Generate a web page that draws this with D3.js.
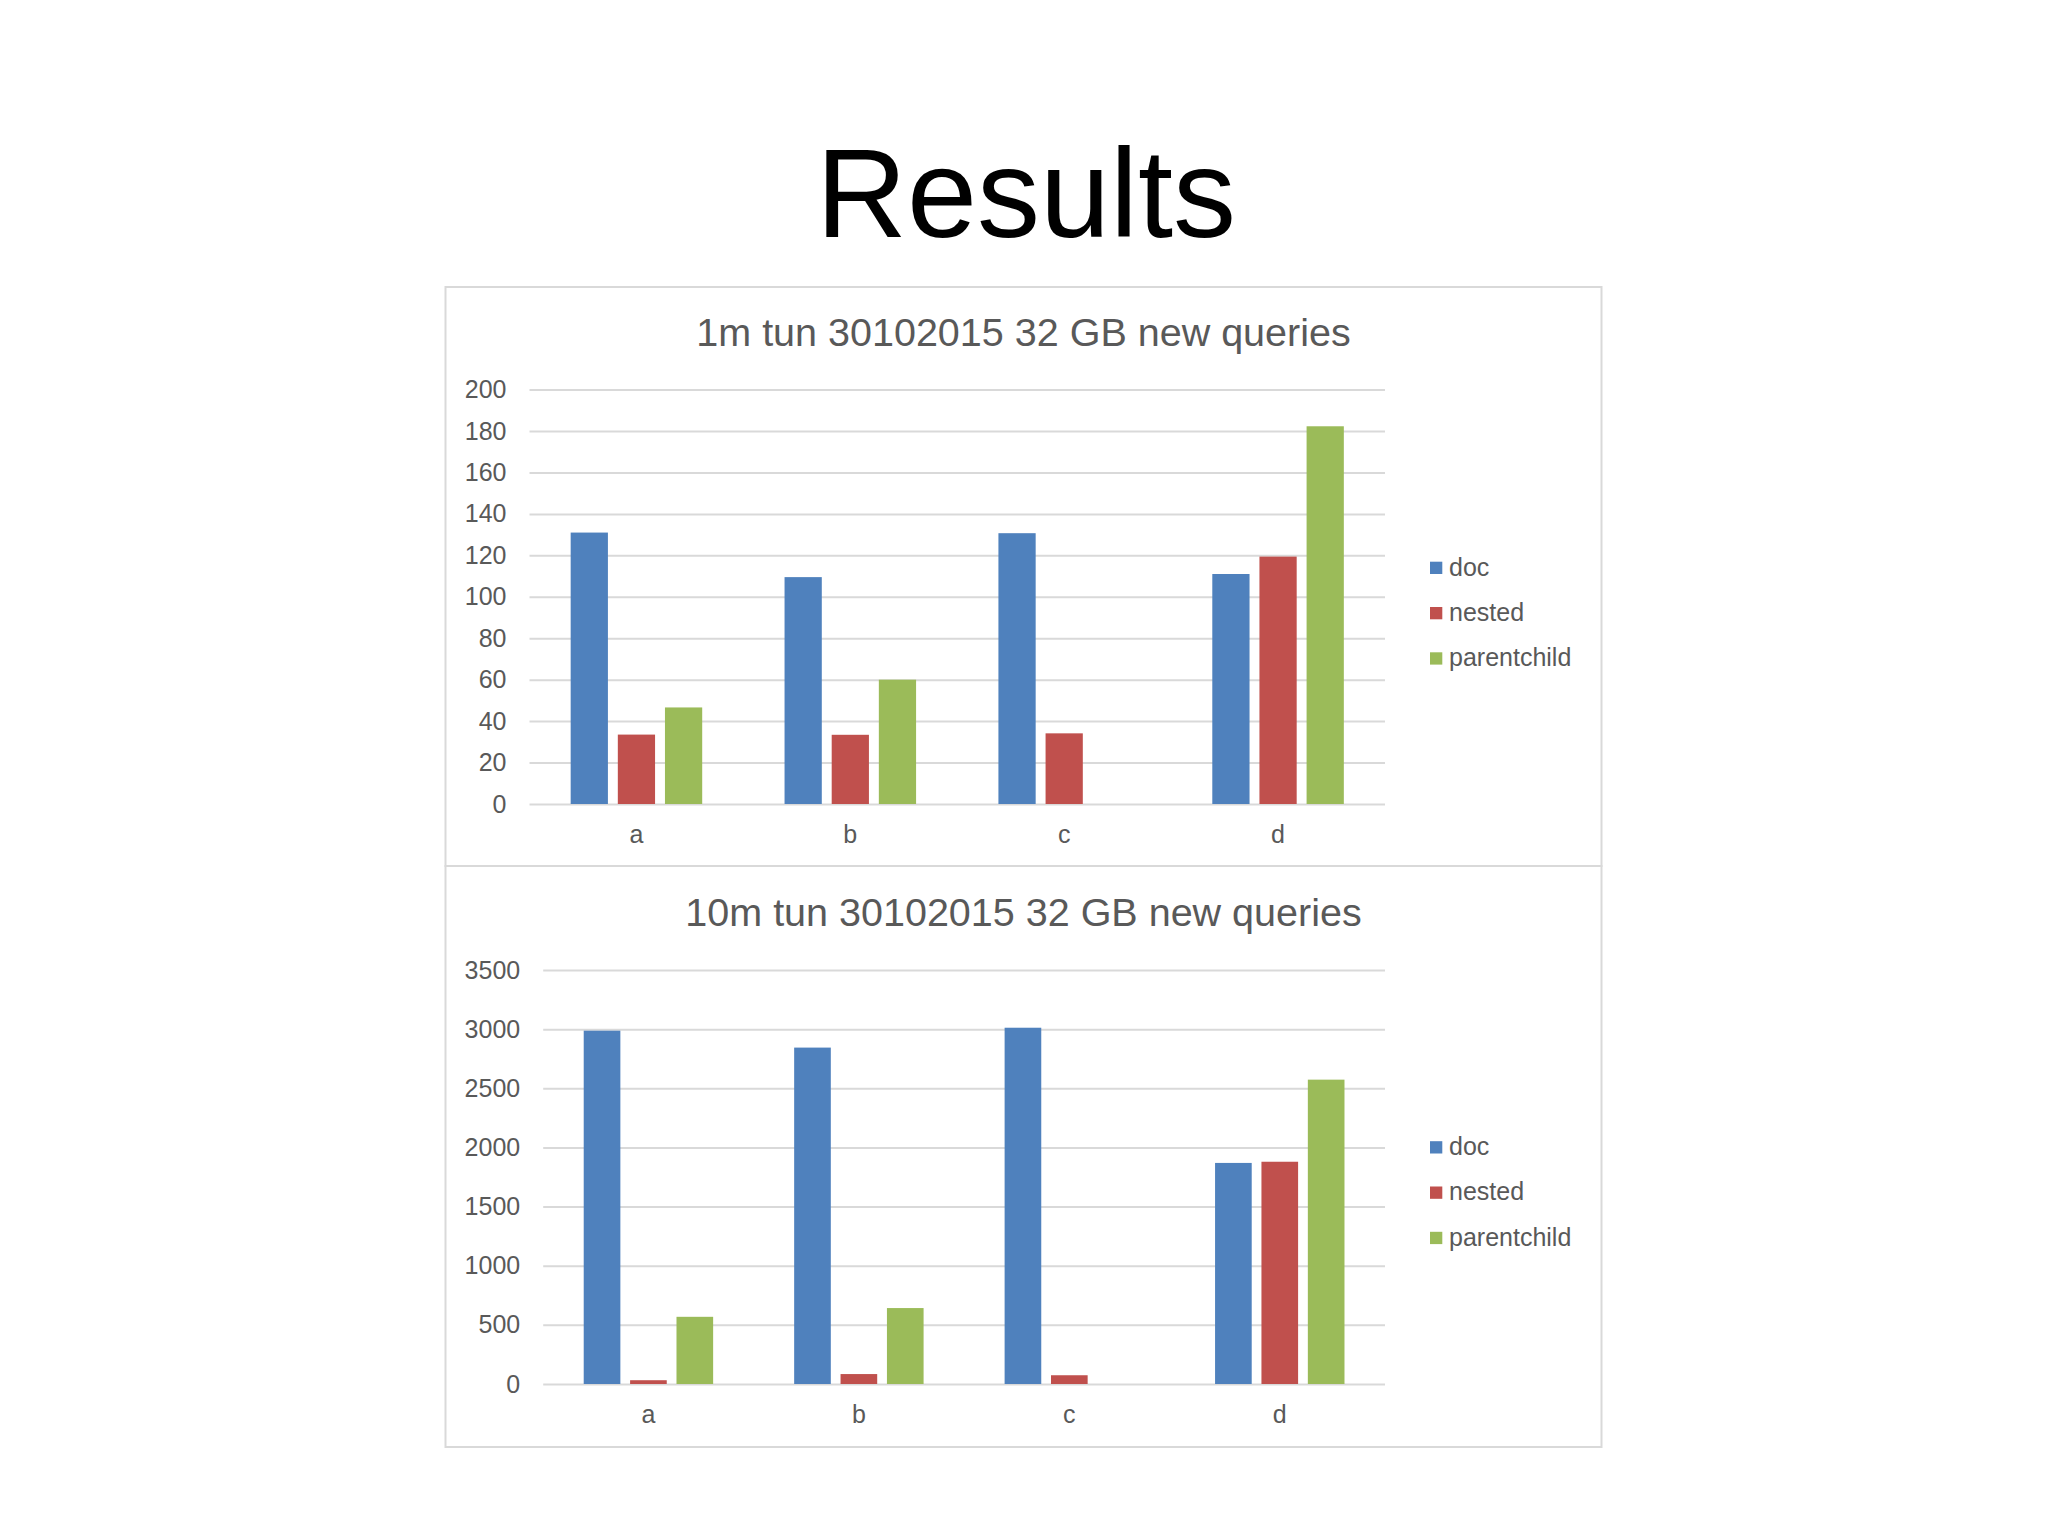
<!DOCTYPE html>
<html><head><meta charset="utf-8">
<script src="https://cdn.jsdelivr.net/npm/d3@7/dist/d3.min.js"></script>
<style>html,body{margin:0;padding:0;background:#fff;} svg{display:block;}</style>
</head><body>
<script>
// ---------- data ----------
const pageTitle = "Results";
const categories = ["a", "b", "c", "d"];
const seriesNames = ["doc", "nested", "parentchild"];
const seriesColors = ["#4F81BD", "#C0504D", "#9BBB59"];

const chart1Title = "1m tun 30102015 32 GB new queries";
const chart1Doc = [131, 109.5, 130.7, 111];
const chart1Nested = [33.5, 33.4, 34.1, 119.4];
const chart1Parentchild = [46.6, 60, null, 182.3];
const chart1Ticks = [0, 20, 40, 60, 80, 100, 120, 140, 160, 180, 200];

const chart2Title = "10m tun 30102015 32 GB new queries";
const chart2Doc = [2987, 2844, 3012, 1869];
const chart2Nested = [32, 84, 74, 1879];
const chart2Parentchild = [568, 642, null, 2573];
const chart2Ticks = [0, 500, 1000, 1500, 2000, 2500, 3000, 3500];

// ---------- layout ----------
const W = 2048, H = 1536;
const FONT = "'Liberation Sans', Arial, sans-serif";
const TXT = "#595959", GRID = "#d9d9d9";
const LABEL_SIZE = 25, TITLE_SIZE = 39.5;

const svg = d3.select("body").append("svg").attr("width", W).attr("height", H);
svg.append("rect").attr("width", W).attr("height", H).attr("fill", "#fff");

svg.append("text").attr("x", 1026).attr("y", 237)
  .attr("text-anchor", "middle").attr("font-family", FONT)
  .attr("font-size", 126).attr("fill", "#000").text(pageTitle);

const charts = [
  { title: chart1Title, series: [chart1Doc, chart1Nested, chart1Parentchild], ticks: chart1Ticks,
    box: [445.5, 287, 1601.5, 866], plotX: [529.5, 1385], plotY: [804, 389.6],
    titleY: 345.7, catY: 843.4, legendTop: 561.7 },
  { title: chart2Title, series: [chart2Doc, chart2Nested, chart2Parentchild], ticks: chart2Ticks,
    box: [445.5, 866, 1601.5, 1447], plotX: [543.2, 1385], plotY: [1384, 970],
    titleY: 925.7, catY: 1423, legendTop: 1141.2 }
];

charts.forEach(c => {
  const g = svg.append("g");
  g.append("rect").attr("x", c.box[0]).attr("y", c.box[1])
    .attr("width", c.box[2] - c.box[0]).attr("height", c.box[3] - c.box[1])
    .attr("fill", "#fff").attr("stroke", GRID).attr("stroke-width", 2);

  g.append("text").attr("x", (c.box[0] + c.box[2]) / 2).attr("y", c.titleY)
    .attr("text-anchor", "middle").attr("font-family", FONT).attr("font-size", TITLE_SIZE)
    .attr("fill", TXT).text(c.title);

  const yMax = c.ticks[c.ticks.length - 1];
  const y = d3.scaleLinear().domain([0, yMax]).range(c.plotY);
  const x0 = d3.scaleBand().domain(categories).range(c.plotX).paddingInner(0.385).paddingOuter(0.1925);
  const x1 = d3.scaleBand().domain(seriesNames).range([0, x0.bandwidth()]).paddingInner(0.21).paddingOuter(0);
  const color = d3.scaleOrdinal().domain(seriesNames).range(seriesColors);

  // gridlines + y tick labels
  const yAxis = d3.axisLeft(y).tickValues(c.ticks).tickFormat(d3.format("d"))
    .tickSize(-(c.plotX[1] - c.plotX[0])).tickPadding(23);
  const ya = g.append("g").attr("transform", `translate(${c.plotX[0]},0)`).call(yAxis);
  ya.select(".domain").remove();
  ya.selectAll(".tick line").attr("stroke", GRID).attr("stroke-width", 2);
  ya.selectAll(".tick text").attr("fill", TXT).attr("font-family", FONT).attr("font-size", LABEL_SIZE);

  // bars
  const rows = categories.map((cat, i) => ({ cat, vals: seriesNames.map((s, j) => ({ s, v: c.series[j][i] })) }));
  const grp = g.append("g").selectAll("g").data(rows).join("g")
    .attr("transform", d => `translate(${x0(d.cat)},0)`);
  grp.selectAll("rect").data(d => d.vals.filter(e => e.v != null)).join("rect")
    .attr("x", d => x1(d.s)).attr("width", x1.bandwidth())
    .attr("y", d => y(d.v)).attr("height", d => y(0) - y(d.v))
    .attr("fill", d => color(d.s));

  // category axis
  const xAxis = d3.axisBottom(x0).tickSize(0);
  const xa = g.append("g").attr("transform", `translate(0,${c.plotY[0]})`).call(xAxis);
  xa.select(".domain").remove();
  xa.selectAll(".tick text").attr("y", c.catY - c.plotY[0]).attr("dy", null)
    .attr("fill", TXT).attr("font-family", FONT).attr("font-size", LABEL_SIZE);

  // legend
  const lg = g.append("g").selectAll("g").data(seriesNames).join("g")
    .attr("transform", (d, i) => `translate(1430,${c.legendTop + i * 45.3})`);
  lg.append("rect").attr("width", 12.3).attr("height", 12.3).attr("fill", d => color(d));
  lg.append("text").attr("x", 19).attr("y", 13.8).attr("font-family", FONT).attr("font-size", LABEL_SIZE)
    .attr("fill", TXT).text(d => d);
});
</script>
</body></html>
